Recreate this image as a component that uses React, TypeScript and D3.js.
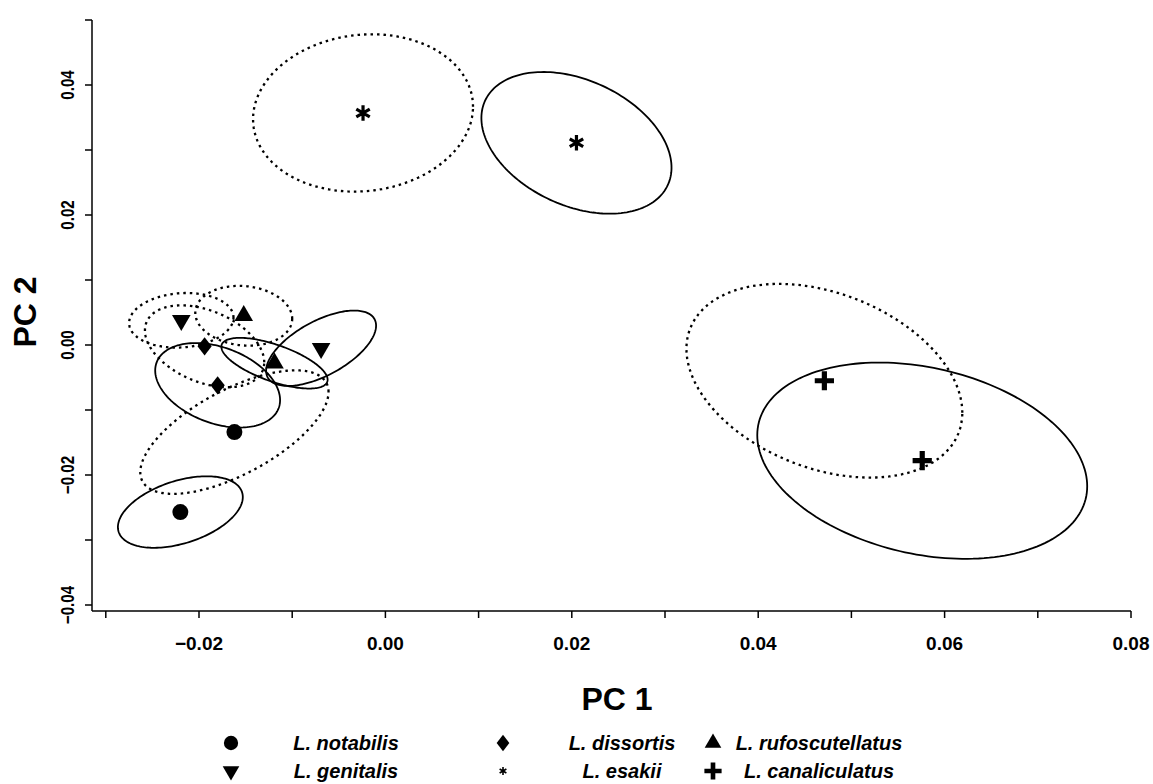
import React, { useEffect, useRef } from "react";
import * as d3 from "d3";

// species, listed column by column as in the legend
const species = ["L. notabilis", "L. genitalis", "L. dissortis", "L. esakii", "L. rufoscutellatus", "L. canaliculatus"];
const markers = ["circle", "triangleDown", "diamond", "asterisk", "triangleUp", "cross"];

// group drawn with the dotted ellipse
const pc1Dotted = [-0.0162, -0.0219, -0.0194, -0.0024, -0.0152, 0.0471];
const pc2Dotted = [-0.0134, 0.0038, -0.0002, 0.0357, 0.0045, -0.0055];
const ext1Dotted = [0.0101, 0.0056, 0.0064, 0.0118, 0.0052, 0.0148];
const ext2Dotted = [0.0095, 0.0042, 0.0063, 0.0121, 0.0046, 0.0149];
const corDotted = [0.65, 0.1, -0.39, 0.08, -0.1, -0.33];

// group drawn with the solid ellipse
const pc1Solid = [-0.022, -0.0069, -0.018, 0.0205, -0.0119, 0.0576];
const pc2Solid = [-0.0257, -0.0005, -0.0062, 0.0311, -0.0028, -0.0178];
const ext1Solid = [0.0067, 0.0059, 0.0067, 0.0102, 0.0057, 0.0177];
const ext2Solid = [0.0055, 0.0058, 0.0065, 0.0109, 0.0039, 0.0151];
const corSolid = [0.42, 0.6, -0.35, -0.35, -0.65, -0.26];

const xTickValues = [-0.02, 0, 0.02, 0.04, 0.06, 0.08];
const xTickLabels = ["\u22120.02", "0.00", "0.02", "0.04", "0.06", "0.08"];
const xMinorTicks = [-0.03, -0.01, 0.01, 0.03, 0.05, 0.07];
const yTickValues = [-0.04, -0.02, 0, 0.02, 0.04];
const yTickLabels = ["\u22120.04", "\u22120.02", "0.00", "0.02", "0.04"];
const yMinorTicks = [-0.03, -0.01, 0.01, 0.03, 0.05];

const diamond = {
    draw(ctx, size) {
        const h = Math.sqrt(size) * 0.72;
        const w = h * 0.78;
        ctx.moveTo(0, -h);
        ctx.lineTo(w, 0);
        ctx.lineTo(0, h);
        ctx.lineTo(-w, 0);
        ctx.closePath();
    }
};

const plus = {
    draw(ctx, size) {
        const a = Math.sqrt(size) * 0.68;
        const t = a * 0.27;
        ctx.moveTo(-a, -t); ctx.lineTo(-t, -t); ctx.lineTo(-t, -a); ctx.lineTo(t, -a);
        ctx.lineTo(t, -t); ctx.lineTo(a, -t); ctx.lineTo(a, t); ctx.lineTo(t, t);
        ctx.lineTo(t, a); ctx.lineTo(-t, a); ctx.lineTo(-t, t); ctx.lineTo(-a, t);
        ctx.closePath();
    }
};

const drawMarker = (g, kind, cx, cy, scale) => {
    if (kind === "asterisk") {
        g.append("path")
            .attr("d", d3.symbol(d3.symbolAsterisk, 170 * scale)())
            .attr("transform", `translate(${cx},${cy})`)
            .attr("fill", "none")
            .attr("stroke", "#000")
            .attr("stroke-width", 3.2 * Math.sqrt(scale));
        return;
    }
    let type = d3.symbolCircle, size = 200, rot = 0;
    if (kind === "triangleUp") { type = d3.symbolTriangle; size = 150; }
    if (kind === "triangleDown") { type = d3.symbolTriangle; size = 150; rot = 180; }
    if (kind === "diamond") { type = diamond; size = 160; }
    if (kind === "cross") { type = plus; size = 200; }
    g.append("path")
        .attr("d", d3.symbol(type, size * scale)())
        .attr("transform", `translate(${cx},${cy}) rotate(${rot})`)
        .attr("fill", "#000");
};

const App = () => {
    const chartRef = useRef(null);

    useEffect(() => {
        const width = 1153;
        const height = 784;

        const x = d3.scaleLinear().domain([-0.02, 0.08]).range([199, 1131]);
        const y = d3.scaleLinear().domain([-0.04, 0.04]).range([605, 85]);
        const x0 = 92;
        const y0 = 611;

        const svg = d3.select(chartRef.current)
            .append("svg")
            .attr("width", width)
            .attr("height", height)
            .style("background", "#fff");

        // axes
        const axis = svg.append("g").attr("stroke", "#000").attr("stroke-width", 1.5);
        axis.append("line").attr("x1", x0).attr("x2", x0).attr("y1", y(0.05)).attr("y2", y0);
        axis.append("line").attr("x1", x0).attr("x2", x(0.08)).attr("y1", y0).attr("y2", y0);
        [...xTickValues, ...xMinorTicks].forEach(v => {
            axis.append("line").attr("x1", x(v)).attr("x2", x(v)).attr("y1", y0).attr("y2", y0 + 7);
        });
        [...yTickValues, ...yMinorTicks].forEach(v => {
            axis.append("line").attr("x1", x0 - 7).attr("x2", x0).attr("y1", y(v)).attr("y2", y(v));
        });

        const labels = svg.append("g")
            .style("font-family", "'Liberation Sans', Arial, sans-serif")
            .attr("fill", "#000");
        xTickValues.forEach((v, i) => {
            labels.append("text")
                .attr("x", x(v))
                .attr("y", 650)
                .attr("text-anchor", "middle")
                .style("font-size", "19px")
                .style("font-weight", "bold")
                .text(xTickLabels[i]);
        });
        yTickValues.forEach((v, i) => {
            labels.append("text")
                .attr("transform", `translate(74,${y(v)}) rotate(-90) scale(0.8,1)`)
                .attr("text-anchor", "middle")
                .style("font-size", "19px")
                .style("font-weight", "bold")
                .text(yTickLabels[i]);
        });
        labels.append("text")
            .attr("x", 617)
            .attr("y", 710)
            .attr("text-anchor", "middle")
            .style("font-size", "32px")
            .style("font-weight", "bold")
            .text("PC 1");
        labels.append("text")
            .attr("transform", `translate(36,312) rotate(-90)`)
            .attr("text-anchor", "middle")
            .style("font-size", "32px")
            .style("font-weight", "bold")
            .text("PC 2");

        // ellipses
        const line = d3.line().curve(d3.curveLinearClosed);
        const angles = d3.range(0, 2 * Math.PI, Math.PI / 90);
        const ellipse = (cx, cy, e1, e2, r) => line(angles.map(t => [
            x(cx + e1 * Math.cos(t)),
            y(cy + e2 * (r * Math.cos(t) + Math.sqrt(1 - r * r) * Math.sin(t)))
        ]));

        const ell = svg.append("g").attr("fill", "none").attr("stroke", "#000");
        species.forEach((s, i) => {
            ell.append("path")
                .attr("d", ellipse(pc1Dotted[i], pc2Dotted[i], ext1Dotted[i], ext2Dotted[i], corDotted[i]))
                .attr("stroke-width", 2.3)
                .attr("stroke-dasharray", "2.5 4");
            ell.append("path")
                .attr("d", ellipse(pc1Solid[i], pc2Solid[i], ext1Solid[i], ext2Solid[i], corSolid[i]))
                .attr("stroke-width", 1.8);
        });

        // group means
        const pts = svg.append("g");
        species.forEach((s, i) => {
            drawMarker(pts, markers[i], x(pc1Dotted[i]), y(pc2Dotted[i]), 1);
            drawMarker(pts, markers[i], x(pc1Solid[i]), y(pc2Solid[i]), 1);
        });

        // legend
        const legend = svg.append("g");
        const symX = [231, 503, 713];
        const textX = [346, 622, 819];
        const rowY = [750, 778];
        species.forEach((s, i) => {
            const col = Math.floor(i / 2);
            const row = i % 2;
            drawMarker(legend, markers[i], symX[col], rowY[row] - 7, markers[i] === "asterisk" ? 0.25 : 0.8);
            legend.append("text")
                .attr("x", textX[col])
                .attr("y", rowY[row])
                .attr("text-anchor", "middle")
                .style("font-family", "'Liberation Sans', Arial, sans-serif")
                .style("font-size", "20px")
                .style("font-weight", "bold")
                .style("font-style", "italic")
                .text(s);
        });

        return () => {
            d3.select(chartRef.current).selectAll("svg").remove();
        };
    }, []);

    return <div style={{ position: "absolute", left: 0, top: 0 }} ref={chartRef}></div>;
};

export default App;
